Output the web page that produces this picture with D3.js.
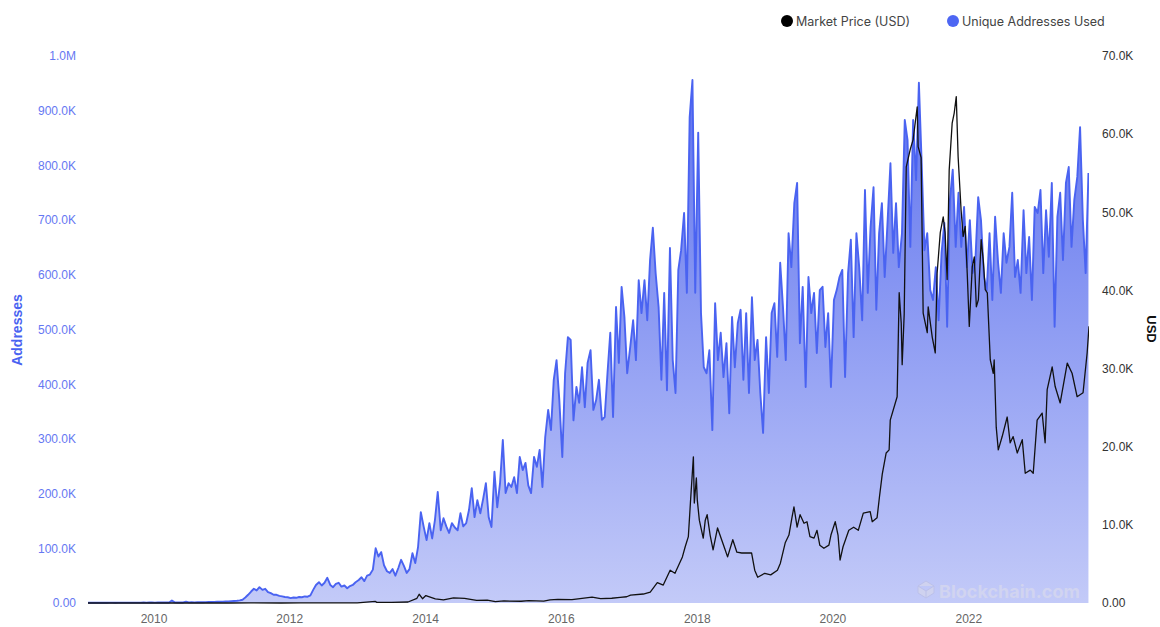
<!DOCTYPE html>
<html>
<head>
<meta charset="utf-8">
<script src="https://cdn.jsdelivr.net/npm/d3@7"></script>
<style>
  body { margin: 0; background: #fff; }
  svg { display: block; }
</style>
</head>
<body>
<div id="viz"></div>
<script>
// ========================================
// Data
// ========================================

// Unique addresses used, thousands, 24 evenly spaced readings per year
var addr2009 = [0.3,0.4,0.4,0.5,0.5,0.6,0.5,0.5,0.6,0.6,0.5,0.6,0.6,0.7,0.6,0.6,0.7,0.7,0.6,0.7,0.8,0.7,0.8,0.8];
var addr2010 = [0.7,0.8,0.9,0.8,0.9,1.0,4.5,1.2,1.0,1.1,1.0,2.5,1.2,1.3,1.2,1.4,1.5,1.4,1.6,1.8,1.7,2.0,2.2,2.3];
var addr2011 = [2.5,2.8,3.0,3.3,3.7,4.2,4.8,6,10,15,21,26,23,29,24,26,20,18,15,15,13,12,11,10.5];
var addr2012 = [9,10,9.5,11,10.5,12,11.5,14,24,33,38,32,37,46,33,29,35,37,30,32,27,31,33,38];
var addr2013 = [42,47,40,50,52,61,100,85,93,69,58,55,62,50,64,79,68,55,62,91,73,102,166,140];
var addr2014 = [115,146,118,152,203,133,155,140,128,146,138,133,164,140,146,170,210,157,188,164,190,219,157,139];
var addr2015 = [240,175,219,298,201,219,212,230,201,267,243,256,215,201,267,249,280,212,303,353,316,408,444,371];
var addr2016 = [267,420,486,481,334,395,366,431,358,439,462,353,371,408,335,340,420,494,340,541,439,578,523,420];
var addr2017 = [470,517,444,590,530,590,517,627,686,603,541,408,567,389,649,444,384,609,645,713,567,888,956,567];
var addr2018 = [860,530,431,420,462,316,548,444,494,413,475,347,523,431,512,536,408,530,384,559,444,481,384,311];
var addr2019 = [486,384,530,548,450,622,541,444,676,614,731,768,475,578,395,596,530,567,457,572,578,468,530,395];
var addr2020 = [554,572,596,609,413,603,664,486,676,614,517,755,567,687,760,536,676,731,596,700,804,640,731,614];
var addr2021 = [676,883,846,651,883,773,951,804,645,676,572,554,614,517,640,695,505,737,792,651,750,651,724,614];
var addr2022 = [700,603,627,742,700,596,572,676,554,706,622,567,676,622,651,750,596,627,567,718,603,669,554,724];
var addr2023 = [713,755,603,718,633,768,505,706,750,627,768,797,651,737,779,870,700,603,786];

var addrYears = [2009,2010,2011,2012,2013,2014,2015,2016,2017,2018,2019,2020,2021,2022,2023];
var addrByYear = [addr2009,addr2010,addr2011,addr2012,addr2013,addr2014,addr2015,addr2016,
                  addr2017,addr2018,addr2019,addr2020,addr2021,addr2022,addr2023];

// Market price, USD
var pricePoints = [
  ["2009-01-03",0],["2010-07-17",0.05],["2010-11-06",0.3],["2011-02-10",1],["2011-06-08",28],
  ["2011-11-18",2.3],["2012-03-01",5],["2012-08-17",13],["2013-01-01",13.5],["2013-04-09",200],
  ["2013-04-16",80],["2013-07-05",70],["2013-10-01",125],["2013-11-18",600],["2013-11-30",1120],
  ["2013-12-18",550],["2014-01-05",950],["2014-02-25",540],["2014-04-10",390],["2014-06-03",660],
  ["2014-08-01",590],["2014-10-05",330],["2014-12-01",375],["2015-01-14",180],["2015-03-01",260],
  ["2015-06-01",225],["2015-07-12",300],["2015-10-01",240],["2015-11-04",400],["2015-12-16",460],
  ["2016-03-01",430],["2016-06-17",760],["2016-08-02",550],["2016-10-01",610],["2016-11-15",710],
  ["2016-12-20",800],["2017-01-10",1000],["2017-03-20",1150],["2017-04-26",1400],["2017-06-03",2600],
  ["2017-07-05",2300],["2017-08-11",4200],["2017-09-06",3800],["2017-10-16",5900],["2017-10-31",7200],
  ["2017-11-17",8500],["2017-11-28",12800],["2017-12-14",18700],["2017-12-19",12800],["2017-12-30",16000],
  ["2018-01-04",13200],["2018-01-15",10600],["2018-02-05",8300],["2018-02-16",10600],["2018-02-26",11300],
  ["2018-03-14",8700],["2018-03-30",6800],["2018-04-23",9600],["2018-05-15",8100],["2018-05-31",7000],
  ["2018-06-16",5900],["2018-07-14",8100],["2018-08-05",6500],["2018-08-31",6400],["2018-10-23",6400],
  ["2018-11-09",4200],["2018-11-25",3300],["2019-01-02",3800],["2019-02-03",3600],["2019-03-11",4200],
  ["2019-03-27",5100],["2019-04-22",7700],["2019-05-12",8700],["2019-05-28",10900],["2019-06-08",12300],
  ["2019-06-25",9700],["2019-07-11",11300],["2019-08-01",10200],["2019-08-17",10400],["2019-09-02",8500],
  ["2019-09-24",8300],["2019-10-10",9300],["2019-10-25",7400],["2019-11-16",7000],["2019-12-13",7400],
  ["2019-12-24",8700],["2020-01-16",10400],["2020-01-31",8700],["2020-02-11",5500],["2020-02-27",7200],
  ["2020-03-29",9300],["2020-04-24",9700],["2020-05-19",9300],["2020-06-15",11500],["2020-07-22",11700],
  ["2020-08-02",10400],["2020-08-28",10900],["2020-09-10",13600],["2020-09-25",16500],["2020-10-16",19200],
  ["2020-11-01",19600],["2020-11-07",23400],["2020-12-14",26400],["2020-12-25",39700],["2021-01-05",35800],
  ["2021-01-10",30500],["2021-01-21",37000],["2021-02-01",55800],["2021-02-22",58000],["2021-03-10",59300],
  ["2021-04-01",63500],["2021-04-06",58400],["2021-04-22",57000],["2021-05-03",37100],["2021-05-25",34600],
  ["2021-05-30",37900],["2021-06-21",34000],["2021-07-07",32000],["2021-07-17",42200],["2021-08-03",47400],
  ["2021-08-19",49400],["2021-08-29",47400],["2021-09-09",41400],["2021-09-20",55400],["2021-10-06",61400],
  ["2021-10-17",62700],["2021-10-28",64800],["2021-11-07",57100],["2021-11-23",50300],["2021-12-04",46900],
  ["2021-12-15",48200],["2021-12-26",42200],["2022-01-06",35400],["2022-01-22",43000],["2022-02-02",44300],
  ["2022-02-13",37900],["2022-02-24",38800],["2022-03-11",46500],["2022-03-22",43900],["2022-04-02",40100],
  ["2022-04-13",39700],["2022-04-29",31100],["2022-05-15",29400],["2022-05-20",31100],["2022-05-31",22500],
  ["2022-06-11",19600],["2022-07-02",21300],["2022-07-29",23800],["2022-08-14",20500],["2022-08-30",21300],
  ["2022-09-21",19200],["2022-10-18",20900],["2022-11-03",16600],["2022-11-30",17000],["2022-12-16",16600],
  ["2023-01-06",23400],["2023-02-02",24300],["2023-02-18",20500],["2023-03-01",27300],["2023-03-28",30200],
  ["2023-04-13",27700],["2023-05-10",25600],["2023-06-17",30700],["2023-07-13",29400],["2023-08-09",26400],
  ["2023-09-10",26900],["2023-10-02",32000],["2023-10-12",35400]
];

var leftTicks = [0,100000,200000,300000,400000,500000,600000,700000,800000,900000,1000000];
var rightTicks = [0,10000,20000,30000,40000,50000,60000,70000];
var yearTicks = [2010,2012,2014,2016,2018,2020,2022];
var seriesNames = ["Market Price (USD)", "Unique Addresses Used"];

// ========================================
// SVG
// ========================================

var width = 1160, height = 627;
var margin = {left: 88, right: 71, top: 56, bottom: 24};

var blue_line = '#4a63f1',
    blue_axis = '#6577f2',
    price_color = '#111111';

var parseDate = d3.timeParse("%Y-%m-%d");

var addrData = [];
addrYears.forEach((yr, k) => {
  addrByYear[k].forEach((v, i) => {
    addrData.push({date: d3.timeDay.offset(new Date(yr, 0, 1), Math.round((i + 0.5) * 365 / 24)), value: v * 1000});
  });
});
var priceData = pricePoints.map(p => ({date: parseDate(p[0]), value: p[1]}));

var x = d3.scaleTime()
  .domain([parseDate("2009-01-03"), parseDate("2023-10-12")])
  .range([86, width - margin.right]);
var yL = d3.scaleLinear().domain([0, 1000000]).range([height - margin.bottom, margin.top]);
var yR = d3.scaleLinear().domain([0, 70000]).range([height - margin.bottom, margin.top]);

var svg = d3.select("#viz").append("svg")
  .attr("width", width)
  .attr("height", height)
  .style("background", "#fff");

var defs = svg.append("defs");
var grad = defs.append("linearGradient")
  .attr("id", "addrFill")
  .attr("gradientUnits", "userSpaceOnUse")
  .attr("x1", 0).attr("x2", 0)
  .attr("y1", yL(1000000)).attr("y2", yL(0));
grad.append("stop").attr("offset", "0%").attr("stop-color", "#5a6fee");
grad.append("stop").attr("offset", "100%").attr("stop-color", "#c3caf8");

defs.append("clipPath").attr("id", "plotClip")
  .append("rect")
  .attr("x", margin.left).attr("y", 0)
  .attr("width", width - margin.left - margin.right)
  .attr("height", height - margin.bottom + 1);

var fmt = v => v === 0 ? "0.00" : (v >= 1e6 ? (v / 1e6).toFixed(1) + "M" : (v / 1e3).toFixed(1) + "K");

// Area + line for addresses
var plot = svg.append("g").attr("clip-path", "url(#plotClip)");

plot.append("path")
  .datum(addrData)
  .attr("fill", "url(#addrFill)")
  .attr("d", d3.area().x(d => x(d.date)).y0(yL(0)).y1(d => yL(d.value)));

plot.append("path")
  .datum(addrData)
  .attr("fill", "none")
  .attr("stroke", blue_line)
  .attr("stroke-width", 1.9)
  .attr("stroke-linejoin", "round")
  .attr("d", d3.line().x(d => x(d.date)).y(d => yL(d.value)));

// Watermark
var wm = svg.append("g").attr("transform", "translate(926, 591)");
wm.append("path")
  .attr("d", "M-8,-5 L0,-10 L8,-5 L8,2 L0,7 L-8,2 Z M-8,-5 L0,0 L8,-5 M0,0 L0,7")
  .attr("fill", "#cfd2ef")
  .attr("stroke", "#bcc1ea")
  .attr("stroke-width", 1);
wm.append("text")
  .attr("x", 13).attr("y", 6.5)
  .style("font-family", "Inter, 'Open Sans', sans-serif")
  .style("font-size", "18px")
  .style("font-weight", "bold")
  .style("fill", "#d1d4f0")
  .text("Blockchain.com");

// Price line
plot.append("path")
  .datum(priceData)
  .attr("fill", "none")
  .attr("stroke", price_color)
  .attr("stroke-width", 1.3)
  .attr("stroke-linejoin", "round")
  .attr("d", d3.line().x(d => x(d.date)).y(d => yR(d.value)));

// Axes
var axisFont = "'Liberation Sans', Arial, sans-serif";

var gl = svg.append("g")
  .attr("transform", `translate(${margin.left},0)`)
  .call(d3.axisLeft(yL).tickValues(leftTicks).tickFormat(fmt).tickSize(0).tickPadding(12));
gl.select(".domain").remove();
gl.selectAll("text").style("fill", blue_axis).style("font-family", axisFont).style("font-size", "12px");

var gr = svg.append("g")
  .attr("transform", `translate(${width - margin.right},0)`)
  .call(d3.axisRight(yR).tickValues(rightTicks).tickFormat(fmt).tickSize(0).tickPadding(13));
gr.select(".domain").remove();
gr.selectAll("text").style("fill", "#333").style("font-family", axisFont).style("font-size", "12px");

var gb = svg.append("g")
  .attr("transform", `translate(0,${height - margin.bottom})`)
  .call(d3.axisBottom(x).tickValues(yearTicks.map(yr => new Date(yr, 0, 1))).tickFormat(d3.timeFormat("%Y")).tickSize(0).tickPadding(11));
gb.select(".domain").remove();
gb.selectAll("text").style("fill", "#666").style("font-family", axisFont).style("font-size", "12px");

// Axis titles
svg.append("text")
  .attr("transform", "translate(22, 330) rotate(-90)")
  .attr("text-anchor", "middle")
  .style("font-family", axisFont)
  .style("font-size", "14px")
  .style("font-weight", "bold")
  .style("fill", blue_line)
  .text("Addresses");

svg.append("text")
  .attr("transform", "translate(1147, 329) rotate(90)")
  .attr("text-anchor", "middle")
  .style("font-family", axisFont)
  .style("font-size", "13px")
  .style("font-weight", "bold")
  .style("fill", "#111")
  .text("USD");

// Legend
var legend = svg.append("g");
var legendItems = [
  {name: seriesNames[0], color: "#000", cx: 787},
  {name: seriesNames[1], color: "#4d66f3", cx: 953}
];
legendItems.forEach(item => {
  legend.append("circle").attr("cx", item.cx).attr("cy", 21).attr("r", 6).attr("fill", item.color);
  legend.append("text")
    .attr("x", item.cx + 9).attr("y", 21)
    .attr("dominant-baseline", "central")
    .style("font-family", "Inter, 'Open Sans', sans-serif")
    .style("font-size", "12.5px")
    .style("fill", "#444")
    .text(item.name);
});
</script>
</body>
</html>
